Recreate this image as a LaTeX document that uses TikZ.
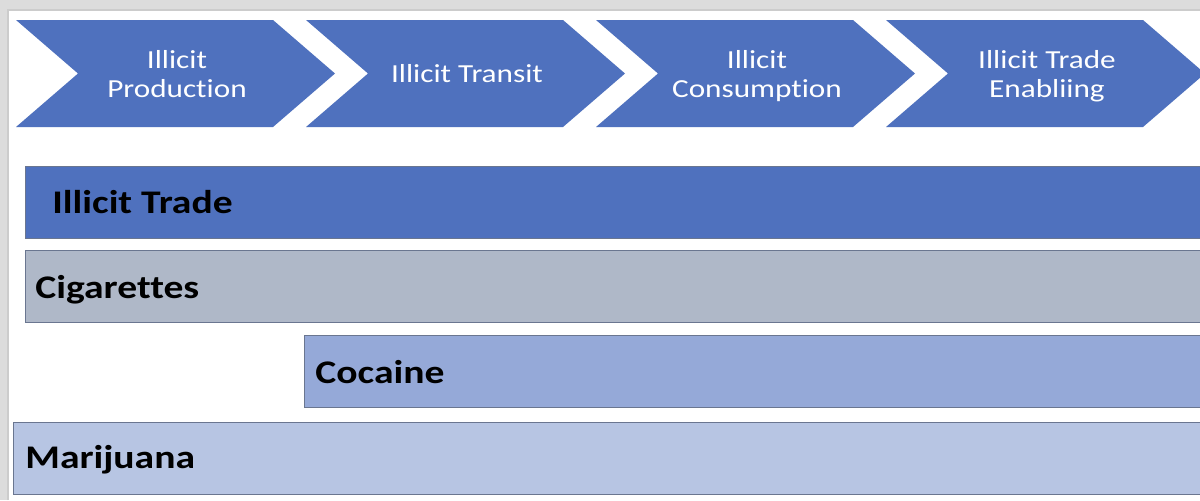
\documentclass[tikz,border=0pt]{standalone}
\usepackage{fontspec}
\setmainfont{Carlito}
\newfontfamily\chevfont[FakeStretch=1.2, Ligatures={NoCommon}]{Carlito}
\newfontfamily\barfont[FakeStretch=1.2, Ligatures={NoCommon}]{Carlito Bold}
\definecolor{mainblue}{HTML}{4F71BE}
\definecolor{cigfill}{HTML}{AFB8C8}
\definecolor{cocfill}{HTML}{95A9D8}
\definecolor{marfill}{HTML}{B7C5E3}
\definecolor{barline}{HTML}{6A7690}
\definecolor{bggray}{HTML}{DCDCDC}
\tikzset{
  chev/.style={fill=mainblue, draw=none},
  chevtext/.style={text=white, font=\chevfont\fontsize{13}{14.5}\selectfont, align=center, inner sep=0pt, text height=9.5pt, text depth=3pt},
  barbox/.style={draw=barline, line width=0.6pt, anchor=north west, minimum height=36pt, inner sep=0pt},
  bartext/.style={text=black, font=\barfont\fontsize{16.5}{18}\selectfont, anchor=base west, inner sep=0pt},
}
\begin{document}
\begin{tikzpicture}[x=0.5pt, y=-0.5pt]
\useasboundingbox (0,0) rectangle (1200,500);
\clip (0,0) rectangle (1200,500);
% background
\fill[bggray] (0,0) rectangle (1200,500);
\fill[white] (8,10) rectangle (1200,500);
\draw[gray!40, line width=0.8pt] (8,500) -- (8,10) -- (1200,10);
% chevrons
\foreach \i/\x in {1/16, 2/306, 3/596, 4/886} {
  \fill[chev] (\x,20) -- (\x+257,20) -- (\x+319,73.5) -- (\x+257,127) -- (\x,127) -- (\x+62,73.5) -- cycle;
}
\node[chevtext] (c1) at (177,91) {Illicit\\Production};
\node[chevtext] (c2) at (467,76) {Illicit Transit};
\node[chevtext] (c3) at (757,91) {Illicit\\Consumption};
\node[chevtext] (c4) at (1047,91) {Illicit Trade\\Enabliing};
% bars
\node[barbox, fill=mainblue, minimum width=1200pt] (b1) at (25,166) {};
\node[barbox, fill=cigfill, minimum width=1200pt] (b2) at (25,250) {};
\node[barbox, fill=cocfill, minimum width=1200pt] (b3) at (304,335) {};
\node[barbox, fill=marfill, minimum width=1200pt] (b4) at (13,422) {};
\node[bartext] (t1) at (52,213) {Illicit Trade};
\node[bartext] (t2) at (35,298) {Cigarettes};
\node[bartext] (t3) at (315,383) {Cocaine};
\node[bartext] (t4) at (25,468) {Marijuana};
\end{tikzpicture}
\end{document}
